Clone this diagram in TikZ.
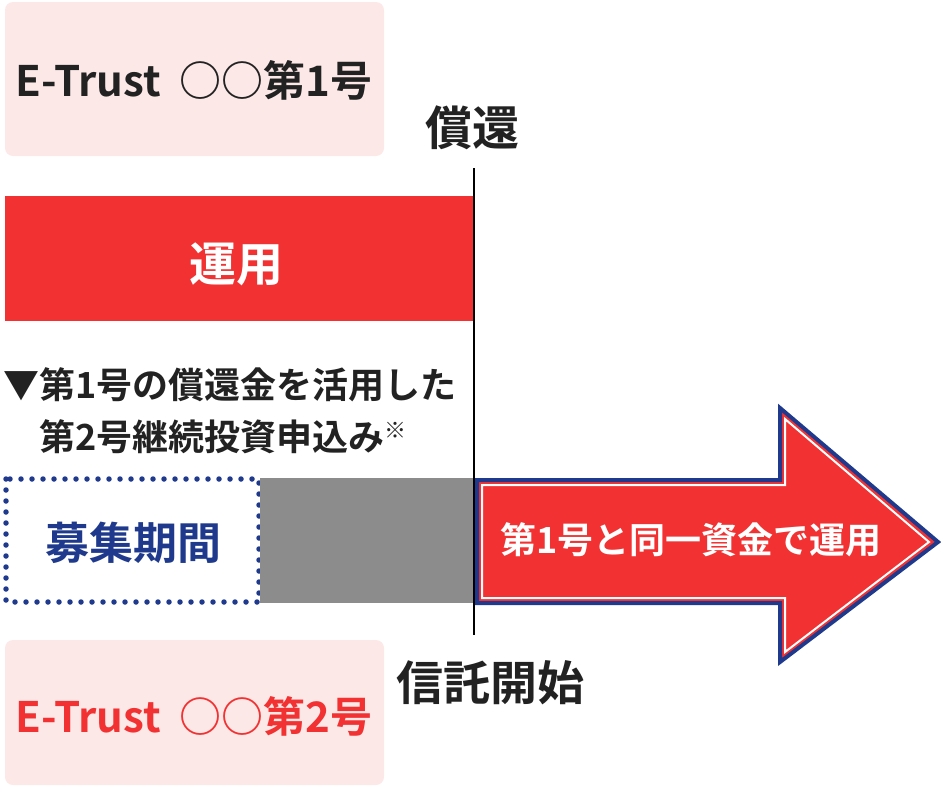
\documentclass[tikz,border=0pt]{standalone}
\usepackage{fontspec}
\setmainfont{Noto Sans CJK JP}[BoldFont={* Bold}]
\definecolor{eRed}{HTML}{F23232}
\definecolor{ePink}{HTML}{FDE8E8}
\definecolor{eNavy}{HTML}{1F3A8C}
\definecolor{eGray}{HTML}{8C8C8C}
\definecolor{eInk}{HTML}{222222}
\begin{document}
\begin{tikzpicture}[x=1pt,y=-1pt,
  pinkbox/.style={fill=ePink,rounded corners=8pt},
  big/.style={font=\fontsize{47}{50}\selectfont\bfseries},
  mid/.style={font=\fontsize{36}{40}\selectfont\bfseries},
  fund/.style={font=\fontsize{42}{46}\selectfont\bfseries}]
  \useasboundingbox (0,0) rectangle (941,787);
  % upper fund
  \fill[pinkbox] (5,2) rectangle (384,156);
  \node[fund,text=eInk] (first) at (194,80) {E-Trust\ \ ○○第1号};
  \fill[eRed] (5,196) rectangle (474,321);
  \node[big,text=white] (run) at (236,264) {運用};
  \node[big,text=eInk] (redeem) at (472,128) {償還};
  % notice
  \node[mid,text=eInk,anchor=west] (note1) at (0,385) {▼第1号の償還金を活用した};
  \node[mid,text=eInk,anchor=west] (note2) at (36,437) {第2号継続投資申込み\raisebox{12pt}{\fontsize{22}{22}\selectfont ※}};
  % second fund
  \draw[eNavy,line width=5.5pt,dash pattern=on 0pt off 11pt,line cap=round] (6,479) rectangle (259,602);
  \node[font=\fontsize{44}{48}\selectfont\bfseries,text=eNavy] (period) at (133,543) {募集期間};
  \fill[eGray] (260,478) rectangle (474,603);
  \draw[line width=2pt] (474,168) -- (474,635);
  \draw[eNavy,line width=4pt,fill=eRed,line join=miter]
    (477,480) -- (780,480) -- (780,408) -- (938,542) -- (780,662) -- (780,603) -- (477,603) -- cycle;
  \draw[white,line width=2pt,line join=miter]
    (482,485) -- (785,485) -- (785,419) -- (929,542) -- (785,652) -- (785,598) -- (482,598) -- cycle;
  \node[font=\fontsize{36}{40}\selectfont\bfseries,text=white] (same) at (691,540) {第1号と同一資金で運用};
  \node[big,text=eInk] (start) at (490,683) {信託開始};
  \fill[pinkbox] (5,640) rectangle (384,785);
  \node[fund,text=eRed] (second) at (194,716) {E-Trust\ \ ○○第2号};
\end{tikzpicture}
\end{document}
